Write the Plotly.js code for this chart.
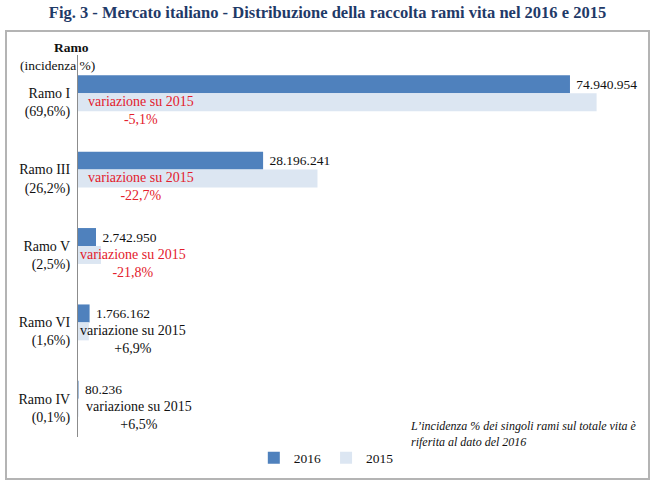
<!DOCTYPE html>
<html>
<head>
<meta charset="utf-8">
<script src="https://cdn.plot.ly/plotly-3.0.1.min.js"></script>
<style>
  html, body { margin: 0; padding: 0; background: #fff; }
  #wrap { position: relative; width: 655px; height: 486px; }
  #chart { width: 655px; height: 486px; }
  #frame { position: absolute; left: 5px; top: 30px; width: 641px; height: 446px;
           border: 2px solid #b4b4b4; pointer-events: none; }
</style>
</head>
<body>
<div id="wrap">
  <div id="chart"></div>
  <div id="frame"></div>
</div>
<script>
// ---- data ----
const categories = ['Ramo I', 'Ramo III', 'Ramo V', 'Ramo VI', 'Ramo IV'];
const incidenza = ['69,6%', '26,2%', '2,5%', '1,6%', '0,1%'];
const values2016 = [74940954, 28196241, 2742950, 1766162, 80236];
const values2015 = [79000000, 36480000, 3508000, 1652000, 75300];
const variazione = ['-5,1%', '-22,7%', '-21,8%', '+6,9%', '+6,5%'];
const seriesNames = ['2016', '2015'];

// ---- styling ----
const FONT = 'Liberation Serif, Times New Roman, serif';
const RED = '#e3202c';
const varLabelOffset = [63, 63, 55, 55, 61]; // px from axis (centre of label block)

const tickText = categories.map((c, i) => c + '<br>(' + incidenza[i] + ')');

const traces = [
  {
    type: 'bar', orientation: 'h', name: seriesNames[0],
    y: categories, x: values2016,
    marker: { color: '#4f81bd' },
    texttemplate: ' %{x:,}', textposition: 'outside',
    textfont: { family: FONT, size: 13.5, color: '#111' },
    constraintext: 'none', cliponaxis: false, hoverinfo: 'x+y'
  },
  {
    type: 'bar', orientation: 'h', name: seriesNames[1],
    y: categories, x: values2015,
    marker: { color: '#dce6f2' },
    hoverinfo: 'x+y'
  }
];

const annotations = [
  { xref: 'paper', yref: 'paper', x: 0, y: 1, xanchor: 'center', yanchor: 'middle',
    xshift: -7, yshift: 8, showarrow: false, text: '<b>Ramo</b>',
    font: { family: FONT, size: 13.5, color: '#111' } },
  { xref: 'paper', yref: 'paper', x: 0, y: 1, xanchor: 'center', yanchor: 'middle',
    xshift: -21, yshift: -10, showarrow: false, text: '(incidenza %)',
    font: { family: FONT, size: 13.5, color: '#111' } },
  { xref: 'paper', yref: 'paper', x: 0.592, y: 0.009, xanchor: 'left', yanchor: 'middle',
    align: 'left', showarrow: false,
    text: '<i>L’incidenza % dei singoli rami sul totale vita è<br>riferita al dato del 2016</i>',
    font: { family: FONT, size: 12, color: '#111' } }
];

categories.forEach((c, i) => {
  const neg = variazione[i].trim().startsWith('-');
  annotations.push({
    xref: 'x', yref: 'y', x: 0, y: c, xanchor: 'center', yanchor: 'middle',
    xshift: varLabelOffset[i], yshift: -17, align: 'center', showarrow: false,
    text: 'variazione su 2015<br>' + variazione[i],
    font: { family: FONT, size: 14, color: neg ? RED : '#111' }
  });
});

const layout = {
  width: 655, height: 486,
  margin: { l: 78, r: 19, t: 55, b: 46 },
  paper_bgcolor: '#fff', plot_bgcolor: '#fff',
  separators: ',.',
  font: { family: FONT, size: 13, color: '#111' },
  title: {
    text: '<b>Fig. 3 - Mercato italiano - Distribuzione della raccolta rami vita nel 2016 e 2015</b>',
    font: { family: FONT, size: 16.5, color: '#1f3a68' },
    x: 0.5, xanchor: 'center', xref: 'container', y: 0.974, yanchor: 'middle', yref: 'container'
  },
  barmode: 'group', bargap: 0.53, bargroupgap: 0,
  xaxis: { range: [0, 85000000], visible: false, showgrid: false, zeroline: false, fixedrange: true },
  yaxis: {
    type: 'category', autorange: 'reversed',
    tickmode: 'array', tickvals: categories, ticktext: tickText,
    ticks: '', showline: true, linecolor: '#8c8c8c', linewidth: 1,
    showgrid: false, zeroline: false, ticklabelstandoff: 4, ticklabelshift: -9,
    tickfont: { family: FONT, size: 14, color: '#111' }, fixedrange: true
  },
  showlegend: true,
  legend: {
    orientation: 'h', x: 0.445, xanchor: 'center', y: -0.055, yanchor: 'middle',
    font: { family: FONT, size: 13.5, color: '#111' }, itemwidth: 30,
    traceorder: 'normal', bgcolor: 'rgba(0,0,0,0)'
  },
  annotations: annotations
};

Plotly.newPlot('chart', traces, layout, { displayModeBar: false, staticPlot: true });
</script>
</body>
</html>
